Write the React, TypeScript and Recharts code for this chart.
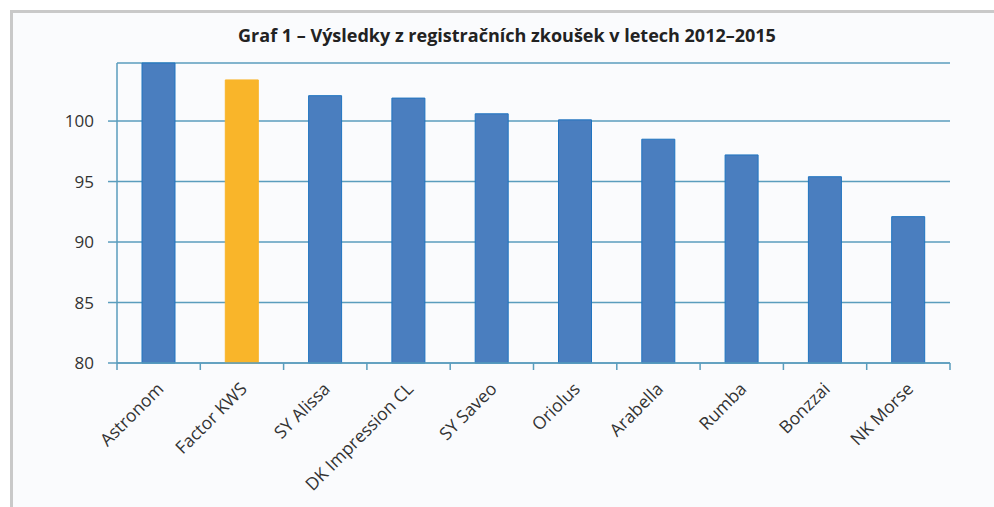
import React from 'react'
import { BarChart, Bar, XAxis, YAxis, CartesianGrid, Cell } from 'recharts'

const varieties = [
  'Astronom', 'Factor KWS', 'SY Alissa', 'DK Impression CL', 'SY Saveo',
  'Oriolus', 'Arabella', 'Rumba', 'Bonzzai', 'NK Morse',
]
const results = [104.8, 103.4, 102.1, 101.9, 100.6, 100.1, 98.5, 97.2, 95.4, 92.1]
const highlighted = ['Factor KWS']
const yTicks = [80, 85, 90, 95, 100]

const TITLE = 'Graf 1 – Výsledky z registračních zkoušek v letech 2012–2015'

const BLUE = '#4a7ebf'
const BLUE_EDGE = '#1f74c0'
const YELLOW = '#f9b52a'
const LINE = '#5a9dbd'
const FONT = '"Open Sans", "Noto Sans", sans-serif'

const W = 994
const H = 507
const MARGIN = { top: 63, right: 44, left: 57, bottom: 44 }
const Y_WIDTH = 60
const BAND = (W - MARGIN.left - MARGIN.right - Y_WIDTH) / varieties.length

const data = varieties.map((name, i) => ({ name, value: results[i] }))

// category label plus the small tick marks on the category boundaries
const AngledTick = (props: any) => {
  const { x, y, payload, index } = props
  const last = index === varieties.length - 1
  return (
    <g>
      <line x1={x - BAND / 2} x2={x - BAND / 2} y1={y} y2={y + 7} stroke={LINE} strokeWidth={1.5} />
      {last && <line x1={x + BAND / 2} x2={x + BAND / 2} y1={y} y2={y + 7} stroke={LINE} strokeWidth={1.5} />}
      <g transform={`translate(${x + 6},${y + 27})`}>
        <text textAnchor="end" transform="rotate(-45)" fill="#333" fontSize={17.5} fontFamily={FONT}>
          {payload.value}
        </text>
      </g>
    </g>
  )
}

export default function App() {
  return (
    <div style={{ position: 'absolute', left: 0, top: 0, width: W, height: H, background: '#fff', overflow: 'hidden' }}>
      <div
        style={{
          position: 'absolute', left: 10, top: 10, right: 0, bottom: 0,
          borderLeft: '3px solid #c9c9c9', borderTop: '3px solid #c9c9c9', background: '#fafbfd',
        }}
      />
      <div
        style={{
          position: 'absolute', left: 0, width: 1014, top: 23, textAlign: 'center',
          fontFamily: FONT, fontWeight: 700, fontSize: 18, color: '#222',
        }}
      >
        {TITLE}
      </div>
      <div style={{ position: 'absolute', left: 0, top: 0 }}>
        <BarChart width={W} height={H} data={data} margin={MARGIN}>
          <CartesianGrid vertical={false} stroke={LINE} strokeWidth={1.5} />
          <XAxis dataKey="name" interval={0} height={100} tickSize={0} tickMargin={0}
            axisLine={{ stroke: LINE, strokeWidth: 1.5 }} tickLine={false} tick={<AngledTick />} />
          <YAxis domain={[80, 104.8]} ticks={yTicks} width={Y_WIDTH} tickSize={9} interval={0}
            axisLine={{ stroke: LINE, strokeWidth: 1.5 }} tickLine={{ stroke: LINE, strokeWidth: 1.5 }}
            tick={{ fill: '#333', fontSize: 17, fontFamily: FONT }} tickMargin={14} />
          <Bar dataKey="value" barSize={33} stroke={BLUE_EDGE} strokeWidth={1} isAnimationActive={false}>
            {data.map(d => (
              <Cell key={d.name} fill={highlighted.includes(d.name) ? YELLOW : BLUE}
                stroke={highlighted.includes(d.name) ? YELLOW : BLUE_EDGE} />
            ))}
          </Bar>
        </BarChart>
      </div>
    </div>
  )
}
